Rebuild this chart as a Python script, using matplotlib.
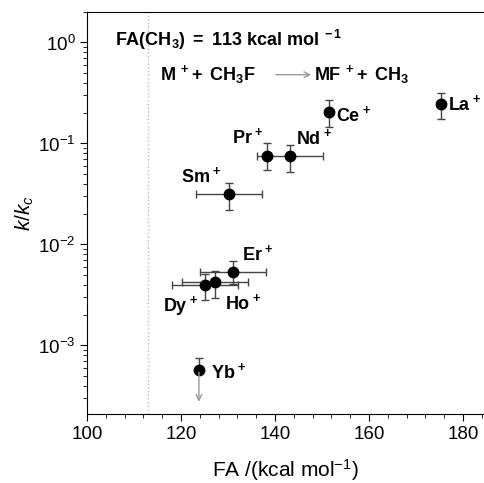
import matplotlib
matplotlib.use('Agg')
import matplotlib.pyplot as plt
import matplotlib.ticker as mtick

plt.rcParams['font.family'] = ['Liberation Sans', 'DejaVu Sans']
plt.rcParams['mathtext.fontset'] = 'custom'
plt.rcParams['mathtext.rm'] = 'Liberation Sans'
plt.rcParams['mathtext.it'] = 'Liberation Sans:italic'
plt.rcParams['mathtext.bf'] = 'Liberation Sans:bold'

# data
ions = ['La', 'Ce', 'Pr', 'Nd', 'Sm', 'Er', 'Ho', 'Dy', 'Yb']
fa = [175.3, 151.5, 138.4, 143.2, 130.2, 131.1, 127.2, 125.1, 123.8]
fa_err = [0, 0, 0, 7, 7, 7, 7, 7, 0]
k = [0.247, 0.206, 0.076, 0.075, 0.0313, 0.00532, 0.00428, 0.00395, 0.000578]
k_hi = [0.318, 0.267, 0.1016, 0.096, 0.0408, 0.00684, 0.00544, 0.00505, 0.000755]
k_lo = [0.173, 0.145, 0.0544, 0.052, 0.0219, 0.0041, 0.00297, 0.00279, 0.000578]
fa_ch3 = 113
yb_limit = 0.00026

# label offsets in points (dx, dy, ha)
label_pos = {
    'La': (5, 0, 'left'),
    'Ce': (5, -2, 'left'),
    'Pr': (-3, 13, 'right'),
    'Nd': (4, 13, 'left'),
    'Sm': (-5, 13, 'right'),
    'Er': (6, 13, 'left'),
    'Ho': (7, -15, 'left'),
    'Dy': (-5, -15, 'right'),
    'Yb': (9, -2, 'left'),
}

fig = plt.figure(figsize=(4.84, 4.83), dpi=100)
ax = fig.add_axes([0.18, 0.143, 0.82, 0.832])

ax.axvline(fa_ch3, color='#bbbbbb', ls=':', lw=1)

yerr = [[k[i] - k_lo[i] for i in range(len(k))], [k_hi[i] - k[i] for i in range(len(k))]]
ax.errorbar(fa, k, xerr=fa_err, yerr=yerr, fmt='o', color='black', ms=7.5,
            ecolor='#444444', elinewidth=1, capsize=3, capthick=1)

# Yb+ upper limit arrow
ax.annotate('', xy=(fa[-1], yb_limit), xytext=(fa[-1], k[-1]),
            arrowprops=dict(arrowstyle='->', color='#999999', lw=1))

for i, name in enumerate(ions):
    dx, dy, ha = label_pos[name]
    ax.annotate(r'$\mathbf{%s}^{\ \mathbf{+}}$' % name, (fa[i], k[i]), xytext=(dx, dy),
                textcoords='offset points', ha=ha, va='center', fontsize=13)

ax.text(106, 1.07, r'$\mathbf{FA(CH_3)\ =\ 113\ kcal\ mol^{\ -1}}$', fontsize=13, va='center')
ax.text(115.5, 0.48, r'$\mathbf{M^{\ +}\!+\ CH_3F}$', fontsize=13, va='center')
ax.annotate('', xy=(148.3, 0.48), xytext=(139.6, 0.48),
            arrowprops=dict(arrowstyle='->', color='#999999', lw=1))
ax.text(148.3, 0.48, r'$\mathbf{MF^{\ +}\!+\ CH_3}$', fontsize=13, va='center')

ax.set_yscale('log')
ax.set_xlim(100, 184.5)
ax.set_ylim(2.1e-4, 2.0)
ax.xaxis.set_major_locator(mtick.MultipleLocator(20))
ax.xaxis.set_minor_locator(mtick.MultipleLocator(4))
ax.yaxis.set_minor_locator(mtick.LogLocator(subs=range(2, 10)))
ax.yaxis.set_minor_formatter(mtick.NullFormatter())
ax.tick_params(labelsize=13.5, direction='out')
ax.tick_params(which='major', length=5)
ax.tick_params(which='minor', length=3)
ax.spines['right'].set_visible(False)

ax.set_xlabel('FA /(kcal mol$^{-1}$)', fontsize=15, labelpad=10)
ax.set_ylabel('$k$/$k_{c}$', fontsize=15, labelpad=1)

plt.savefig('out.png', dpi=100)
